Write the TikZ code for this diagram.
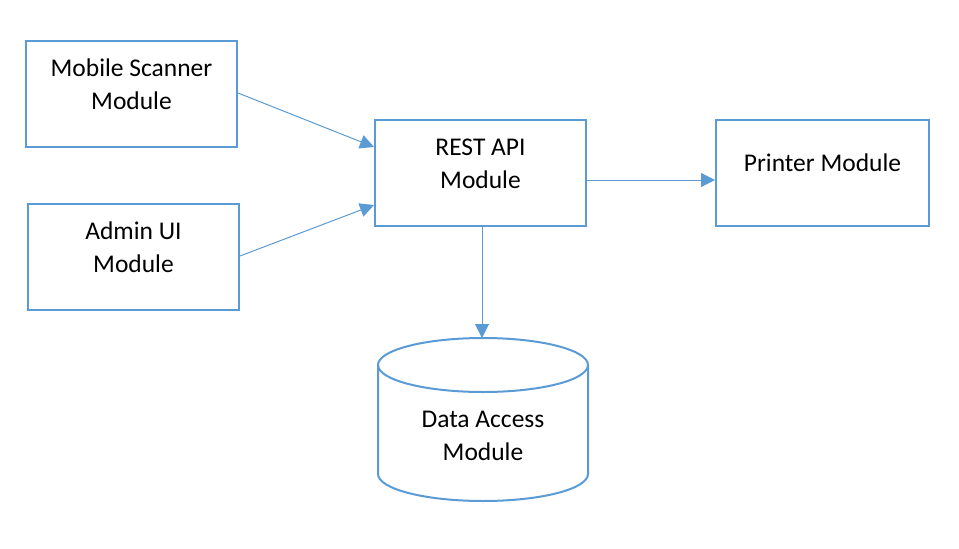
\documentclass[tikz,border=0pt]{standalone}
\usepackage{fontspec}
\setmainfont{Carlito}
\usetikzlibrary{arrows.meta}
\definecolor{lineblue}{HTML}{5B9BD5}
\begin{document}
\begin{tikzpicture}[x=1pt,y=-1pt,
  box/.style={draw=lineblue,line width=2pt,rectangle,inner sep=0pt},
  conn/.style={draw=lineblue,line width=1pt,-{Triangle[length=14pt,width=14pt]}},
  lbl/.style={align=center,inner sep=0pt,font=\fontsize{25.5}{33}\selectfont}]
\useasboundingbox (0,0) rectangle (959,549);
\node[box,minimum width=211pt,minimum height=106pt] (ms) at (131.5,94) {};
\node[box,minimum width=211pt,minimum height=106pt] (ad) at (133.5,257) {};
\node[box,minimum width=211pt,minimum height=106pt] (rest) at (480.5,173) {};
\node[box,minimum width=213pt,minimum height=106pt] (pr) at (822.5,173) {};
\node[lbl] (mst) at ([yshift=10pt]ms.center) {Mobile Scanner\\Module};
\node[lbl] (adt) at ([yshift=10pt]ad.center) {Admin UI\\Module};
\node[lbl] (restt) at ([yshift=9pt]rest.center) {REST API\\Module};
\node[lbl] (prt) at ([yshift=10pt]pr.center) {Printer Module};
% cylinder
\draw[lineblue,line width=2pt] (483,365) ellipse [x radius=105, y radius=27];
\draw[lineblue,line width=2pt] (378,365) -- (378,474) arc[start angle=180,end angle=0,x radius=105,y radius=27] -- (588,365);
\coordinate (datop) at (482,338);
\node[lbl] (da) at (483,436) {Data Access\\Module};
% connectors
\draw[conn] (ms.east|-0,93) -- (rest.west|-0,147);
\draw[conn] (ad.east|-0,256) -- (rest.west|-0,205);
\draw[conn] (rest.east|-0,180) -- (pr.west|-0,180);
\draw[conn] (rest.south-|482,0) -- (datop);
\end{tikzpicture}
\end{document}
